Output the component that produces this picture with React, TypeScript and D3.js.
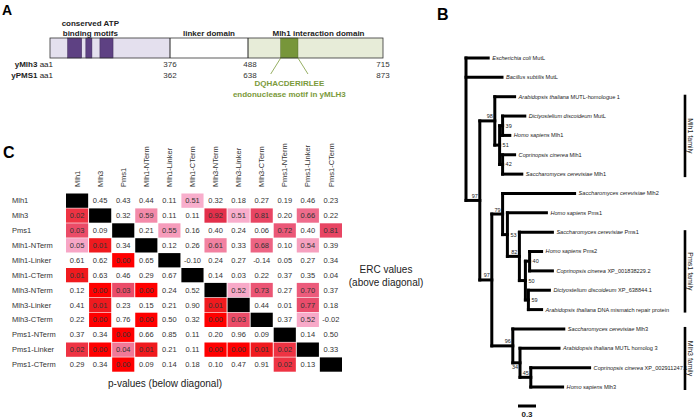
import React from "react";
import * as d3 from "d3";

const FONT = "'Liberation Sans', Arial, Helvetica, sans-serif";

// ---------- Panel A data ----------
const mlh3Bounds = [1, 376, 488, 715];
const pms1Bounds = [1, 362, 638, 873];
const atpMotifs: [number, number][] = [[56, 100], [113, 132], [157, 198]];
const endoMotif: [number, number] = [543, 572];
const endoSeq = "DQHACDERIRLEE";
const endoCaption = "endonuclease motif in yMLH3";
const domainLabels = ["linker domain", "Mlh1 interaction domain"];
const atpLabel = ["conserved ATP", "binding motifs"];

// ---------- Panel C data ----------
const proteins = [
  "Mlh1", "Mlh3", "Pms1", "Mlh1-NTerm", "Mlh1-Linker", "Mlh1-CTerm",
  "Mlh3-NTerm", "Mlh3-Linker", "Mlh3-CTerm", "Pms1-NTerm", "Pms1-Linker", "Pms1-CTerm",
];
// above diagonal: ERC values, below diagonal: p-values, diagonal null
const rowMlh1 = [null, 0.45, 0.43, 0.44, 0.11, 0.51, 0.32, 0.18, 0.27, 0.19, 0.46, 0.23];
const rowMlh3 = [0.02, null, 0.32, 0.59, 0.11, 0.11, 0.92, 0.51, 0.81, 0.20, 0.66, 0.22];
const rowPms1 = [0.03, 0.09, null, 0.21, 0.55, 0.16, 0.40, 0.24, 0.06, 0.72, 0.40, 0.81];
const rowMlh1N = [0.05, 0.01, 0.34, null, 0.12, 0.26, 0.61, 0.33, 0.68, 0.10, 0.54, 0.39];
const rowMlh1L = [0.61, 0.62, 0.00, 0.65, null, -0.10, 0.24, 0.27, -0.14, 0.05, 0.27, 0.34];
const rowMlh1C = [0.01, 0.63, 0.46, 0.29, 0.67, null, 0.14, 0.03, 0.22, 0.37, 0.35, 0.04];
const rowMlh3N = [0.12, 0.00, 0.03, 0.00, 0.24, 0.52, null, 0.52, 0.73, 0.27, 0.70, 0.37];
const rowMlh3L = [0.41, 0.01, 0.23, 0.15, 0.21, 0.90, 0.01, null, 0.44, 0.01, 0.77, 0.18];
const rowMlh3C = [0.22, 0.00, 0.76, 0.00, 0.50, 0.32, 0.00, 0.03, null, 0.37, 0.52, -0.02];
const rowPms1N = [0.37, 0.34, 0.00, 0.66, 0.85, 0.11, 0.20, 0.96, 0.09, null, 0.14, 0.50];
const rowPms1L = [0.02, 0.00, 0.04, 0.01, 0.21, 0.11, 0.00, 0.00, 0.01, 0.02, null, 0.33];
const rowPms1C = [0.29, 0.34, 0.00, 0.09, 0.14, 0.18, 0.10, 0.47, 0.91, 0.02, 0.13, null];
const matrix = [rowMlh1, rowMlh3, rowPms1, rowMlh1N, rowMlh1L, rowMlh1C, rowMlh3N, rowMlh3L, rowMlh3C, rowPms1N, rowPms1L, rowPms1C];

// ---------- Panel B data ----------
type TNode = { id: string; parent: string | null; len: number };
const treeNodes: TNode[] = [
  { id: "root", parent: null, len: 0 },
  { id: "Ecoli", parent: "root", len: 0.37 },
  { id: "Bsub", parent: "root", len: 0.6 },
  { id: "n97a", parent: "root", len: 0.23 },
  { id: "n98", parent: "n97a", len: 0.25 },
  { id: "AtMUTL1", parent: "n98", len: 0.33 },
  { id: "n51", parent: "n98", len: 0.08 },
  { id: "n39", parent: "n51", len: 0.05 },
  { id: "DdMutL", parent: "n39", len: 0.37 },
  { id: "HsMlh1", parent: "n39", len: 0.12 },
  { id: "n42", parent: "n51", len: 0.05 },
  { id: "CcMlh1", parent: "n42", len: 0.2 },
  { id: "ScMlh1", parent: "n42", len: 0.32 },
  { id: "n97b", parent: "n97a", len: 0.2 },
  { id: "n79", parent: "n97b", len: 0.18 },
  { id: "ScMlh2", parent: "n79", len: 1.2 },
  { id: "n53", parent: "n79", len: 0.08 },
  { id: "HsPms1", parent: "n53", len: 0.65 },
  { id: "n82", parent: "n53", len: 0.2 },
  { id: "ScPms1", parent: "n82", len: 0.55 },
  { id: "n50", parent: "n82", len: 0.1 },
  { id: "n40", parent: "n50", len: 0.07 },
  { id: "HsPms2", parent: "n40", len: 0.2 },
  { id: "CcXP1", parent: "n40", len: 0.38 },
  { id: "n59", parent: "n50", len: 0.05 },
  { id: "DdXP", parent: "n59", len: 0.35 },
  { id: "AtDNA", parent: "n59", len: 0.22 },
  { id: "n96", parent: "n97b", len: 0.35 },
  { id: "ScMlh3", parent: "n96", len: 0.85 },
  { id: "n34", parent: "n96", len: 0.12 },
  { id: "AtMUTL3", parent: "n34", len: 0.65 },
  { id: "n45", parent: "n34", len: 0.18 },
  { id: "CcXP2", parent: "n45", len: 0.98 },
  { id: "HsMlh3", parent: "n45", len: 0.53 },
];
const leafNames: Record<string, [string, string]> = {
  Ecoli: ["Escherichia coli", " MutL"],
  Bsub: ["Bacillus subtilis", " MutL"],
  AtMUTL1: ["Arabidopsis thaliana", " MUTL-homologue 1"],
  DdMutL: ["Dictyostelium discoideum", " MutL"],
  HsMlh1: ["Homo sapiens", " Mlh1"],
  CcMlh1: ["Coprinopsis cinerea", " Mlh1"],
  ScMlh1: ["Saccharomyces cerevisiae", " Mlh1"],
  ScMlh2: ["Saccharomyces cerevisiae", " Mlh2"],
  HsPms1: ["Homo sapiens", " Pms1"],
  ScPms1: ["Saccharomyces cerevisiae", " Pms1"],
  HsPms2: ["Homo sapiens", " Pms2"],
  CcXP1: ["Coprinopsis cinerea", " XP_001838229.2"],
  DdXP: ["Dictyostelium discoideum", " XP_638844.1"],
  AtDNA: ["Arabidopsis thaliana", " DNA mismatch repair protein"],
  ScMlh3: ["Saccharomyces cerevisiae", " Mlh3"],
  AtMUTL3: ["Arabidopsis thaliana", " MUTL homolog 3"],
  CcXP2: ["Coprinopsis cinerea", " XP_002911247.1"],
  HsMlh3: ["Homo sapiens", " Mlh3"],
};
// bootstrap support; side: L = left-above, R = right of node, B = left-below
const supports: { id: string; value: string; side: string }[] = [
  { id: "n97a", value: "97", side: "L" },
  { id: "n98", value: "98", side: "L" },
  { id: "n51", value: "51", side: "R" },
  { id: "n39", value: "39", side: "R" },
  { id: "n42", value: "42", side: "R" },
  { id: "n97b", value: "97", side: "L" },
  { id: "n79", value: "79", side: "L" },
  { id: "n53", value: "53", side: "R" },
  { id: "n82", value: "82", side: "L" },
  { id: "n50", value: "50", side: "R" },
  { id: "n40", value: "40", side: "R" },
  { id: "n59", value: "59", side: "R" },
  { id: "n96", value: "96", side: "L" },
  { id: "n34", value: "34", side: "B" },
  { id: "n45", value: "45", side: "L" },
];
const families = [
  { name: "Mlh1 family", from: "AtMUTL1", to: "ScMlh1" },
  { name: "Pms1 family", from: "ScPms1", to: "AtDNA" },
  { name: "Mlh3 family", from: "ScMlh3", to: "HsMlh3" },
];
const scaleBarValue = 0.3;

function PanelA() {
  const xs = d3.scaleLinear().domain(mlh3Bounds).range([50, 170, 248, 383]);
  const top = 38, h = 20;
  const numY1 = 67, numY2 = 78;
  const g0 = xs(endoMotif[0]), g1 = xs(endoMotif[1]);
  return (
    <g fontFamily={FONT}>
      <text x={2} y={15} fontSize={14} fontWeight="bold">A</text>
      {atpLabel.map((t, i) => (
        <text key={t} x={(xs(atpMotifs[0][0]) + xs(atpMotifs[2][1])) / 2} y={26 + i * 10} fontSize={8} fontWeight="bold" textAnchor="middle" fill="#222">{t}</text>
      ))}
      <text x={(xs(mlh3Bounds[1]) + xs(mlh3Bounds[2])) / 2} y={36} fontSize={8} fontWeight="bold" textAnchor="middle" fill="#222">{domainLabels[0]}</text>
      <text x={(xs(mlh3Bounds[2]) + xs(mlh3Bounds[3])) / 2 + 3} y={36} fontSize={8} fontWeight="bold" textAnchor="middle" fill="#222">{domainLabels[1]}</text>
      <rect x={xs(mlh3Bounds[0])} y={top} width={xs(mlh3Bounds[1]) - xs(mlh3Bounds[0])} height={h} fill="#e4e0ee" />
      <rect x={xs(mlh3Bounds[1])} y={top} width={xs(mlh3Bounds[2]) - xs(mlh3Bounds[1])} height={h} fill="#ffffff" />
      <rect x={xs(mlh3Bounds[2])} y={top} width={xs(mlh3Bounds[3]) - xs(mlh3Bounds[2])} height={h} fill="#e7ecd8" />
      {atpMotifs.map((m, i) => (
        <rect key={i} x={xs(m[0])} y={top} width={xs(m[1]) - xs(m[0])} height={h} fill="#5e4183" stroke="#3c2a58" strokeWidth={0.5} />
      ))}
      <rect x={g0} y={top} width={g1 - g0} height={h} fill="#77963a" stroke="#4f6a22" strokeWidth={0.5} />
      <rect x={xs(mlh3Bounds[0])} y={top} width={xs(mlh3Bounds[3]) - xs(mlh3Bounds[0])} height={h} fill="none" stroke="#333" strokeWidth={0.8} />
      {[1, 2].map(i => (
        <line key={i} x1={xs(mlh3Bounds[i])} x2={xs(mlh3Bounds[i])} y1={top} y2={top + h} stroke="#222" strokeWidth={1} />
      ))}
      <text x={53} y={numY1} fontSize={8} textAnchor="end" fill="#222"><tspan fontWeight="bold">yMlh3</tspan> aa1</text>
      <text x={53} y={numY2} fontSize={8} textAnchor="end" fill="#222"><tspan fontWeight="bold">yPMS1</tspan> aa1</text>
      {[1, 2, 3].map(i => (
        <g key={i}>
          <text x={xs(mlh3Bounds[i]) + (i === 2 ? 2 : 0)} y={numY1} fontSize={8} textAnchor="middle" fill="#333">{mlh3Bounds[i]}</text>
          <text x={xs(mlh3Bounds[i]) + (i === 2 ? 2 : 0)} y={numY2} fontSize={8} textAnchor="middle" fill="#333">{pms1Bounds[i]}</text>
        </g>
      ))}
      <line x1={g0} y1={top + h} x2={g0 - 10} y2={top + h + 16} stroke="#7b9a3b" strokeWidth={0.8} />
      <line x1={g1} y1={top + h} x2={g1 + 10} y2={top + h + 16} stroke="#7b9a3b" strokeWidth={0.8} />
      <text x={(g0 + g1) / 2} y={86} fontSize={8} fontWeight="bold" textAnchor="middle" fill="#7b9a3b">{endoSeq}</text>
      <text x={(g0 + g1) / 2} y={97} fontSize={8} fontWeight="bold" textAnchor="middle" fill="#7b9a3b">{endoCaption}</text>
    </g>
  );
}

function PanelC() {
  const x = d3.scaleBand<string>().domain(proteins).range([66, 342]).paddingInner(0.04);
  const y = d3.scaleBand<string>().domain(proteins).range([193.5, 371.7]).paddingInner(0.04);
  const ercColor = d3.scaleLinear<string>().domain([0.5, 0.7, 0.95]).range(["#f9b2d0", "#ec5b7b", "#e22a44"]).clamp(true);
  const pColor = d3.scaleLinear<string>().domain([0, 0.01, 0.03, 0.05]).range(["#ff0000", "#f01a1e", "#eb4c68", "#f7a6c6"]).clamp(true);
  const cells: any[] = [];
  matrix.forEach((row, i) => {
    row.forEach((v, j) => {
      let fill = "none";
      if (i === j) fill = "#000";
      else if (j > i && v !== null && v > 0.5) fill = ercColor(v);
      else if (j < i && v !== null && v <= 0.05) fill = pColor(v);
      cells.push({ i, j, v, fill });
    });
  });
  return (
    <g fontFamily={FONT}>
      <text x={3} y={158} fontSize={16} fontWeight="bold">C</text>
      {proteins.map(p => (
        <text key={"c" + p} transform={`translate(${x(p)! + x.bandwidth() / 2},187) rotate(-90)`} fontSize={7.5} dy="0.35em" fill="#333">{p}</text>
      ))}
      {proteins.map(p => (
        <text key={"r" + p} x={12} y={y(p)! + y.bandwidth() / 2} dy="0.35em" fontSize={7.5} fill="#333">{p}</text>
      ))}
      {cells.map(c => (
        <g key={c.i + "-" + c.j}>
          {c.fill !== "none" && (
            <rect x={x(proteins[c.j])} y={y(proteins[c.i])} width={x.bandwidth()} height={y.bandwidth()} fill={c.fill} />
          )}
          {c.v !== null && (
            <text x={x(proteins[c.j])! + x.bandwidth() / 2} y={y(proteins[c.i])! + y.bandwidth() / 2} dy="0.35em" textAnchor="middle" fontSize={7.5} fill="#333">{c.v.toFixed(2)}</text>
          )}
        </g>
      ))}
      <text x={386} y={269} dy="0.35em" textAnchor="middle" fontSize={10} fill="#222">ERC values</text>
      <text x={386} y={282} dy="0.35em" textAnchor="middle" fontSize={10} fill="#222">(above diagonal)</text>
      <text x={165} y={383} dy="0.35em" textAnchor="middle" fontSize={10} fill="#222">p-values (below diagonal)</text>
    </g>
  );
}

function PanelB() {
  const root = d3.stratify<TNode>().id(d => d.id).parentId(d => d.parent)(treeNodes);
  const xs = d3.scaleLinear().domain([0, 1]).range([466, 526]);
  const leaves = root.leaves();
  const ys = d3.scaleLinear().domain([0, leaves.length - 1]).range([58, 387]);
  const pos: Record<string, { x: number; y: number }> = {};
  root.eachBefore((n: any) => {
    const dist = (n.parent ? (n.parent as any).dist : 0) + n.data.len;
    n.dist = dist;
  });
  leaves.forEach((l: any, i) => { pos[l.id] = { x: xs(l.dist), y: ys(i) }; });
  root.eachAfter((n: any) => {
    if (n.children) {
      const c = n.children;
      pos[n.id] = { x: xs(n.dist), y: (pos[c[0].id].y + pos[c[c.length - 1].id].y) / 2 };
    }
  });
  const lines: any[] = [];
  root.each((n: any) => {
    if (!n.children) return;
    const p = pos[n.id];
    const c = n.children;
    lines.push({ k: n.id + "v", x1: p.x, x2: p.x, y1: pos[c[0].id].y, y2: pos[c[c.length - 1].id].y });
    c.forEach((ch: any) => lines.push({ k: ch.id + "h", x1: p.x, x2: pos[ch.id].x, y1: pos[ch.id].y, y2: pos[ch.id].y }));
  });
  const barX0 = 518;
  return (
    <g fontFamily={FONT}>
      <text x={437} y={20} fontSize={16} fontWeight="bold">B</text>
      {lines.map(l => (
        <line key={l.k} x1={l.x1} x2={l.x2} y1={l.y1} y2={l.y2} stroke="#000" strokeWidth={3} strokeLinecap="square" />
      ))}
      {leaves.map((l: any) => (
        <text key={"t" + l.id} x={pos[l.id].x + 4} y={pos[l.id].y} dy="0.35em" fontSize={5.6} fill="#222">
          <tspan fontStyle="italic">{leafNames[l.id][0]}</tspan>{leafNames[l.id][1]}
        </text>
      ))}
      {supports.map(s => {
        const p = pos[s.id];
        const tx = s.side === "R" ? p.x + 3 : p.x - 2;
        const ty = s.side === "R" ? p.y + 2 : s.side === "B" ? p.y + 6.5 : p.y - 2.5;
        return (
          <text key={"s" + s.id} x={tx} y={ty} fontSize={5.5} textAnchor={s.side === "R" ? "start" : "end"} fill="#222">{s.value}</text>
        );
      })}
      {families.map(f => {
        const y1 = pos[f.from].y - 2, y2 = pos[f.to].y + 3;
        return (
          <g key={f.name}>
            <line x1={685} x2={685} y1={y1} y2={y2} stroke="#000" strokeWidth={2.6} />
            <text transform={`translate(688,${(y1 + y2) / 2}) rotate(90)`} textAnchor="middle" fontSize={7} fill="#222">{f.name}</text>
          </g>
        );
      })}
      <line x1={barX0} x2={barX0 + xs(scaleBarValue) - xs(0)} y1={406} y2={406} stroke="#000" strokeWidth={3} />
      <text x={barX0 + (xs(scaleBarValue) - xs(0)) / 2} y={417} fontSize={8} fontWeight="bold" textAnchor="middle" fill="#222">{scaleBarValue}</text>
    </g>
  );
}

export default function App() {
  return (
    <svg width={695} height={418} viewBox="0 0 695 418" style={{ position: "absolute", left: 0, top: 0, background: "#fff" }}>
      <rect width={695} height={418} fill="#fff" />
      <PanelA />
      <PanelC />
      <PanelB />
    </svg>
  );
}
